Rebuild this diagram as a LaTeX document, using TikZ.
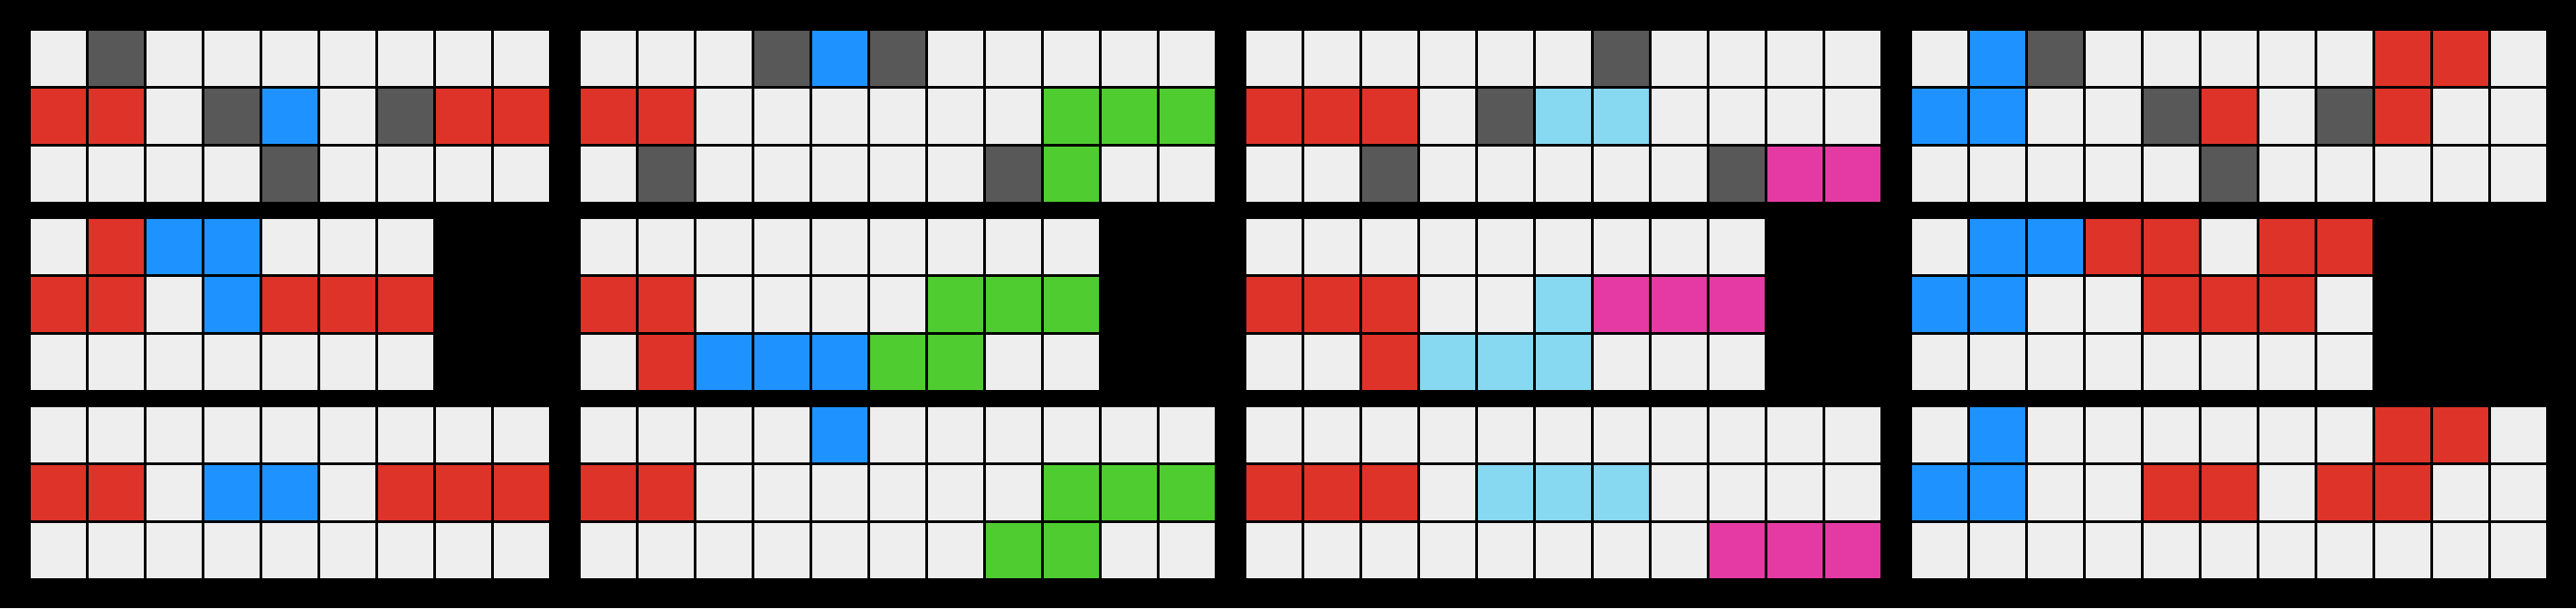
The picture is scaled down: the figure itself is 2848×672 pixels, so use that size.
\documentclass[tikz,border=0pt]{standalone}
\definecolor{E}{HTML}{EEEEEE}
\definecolor{D}{HTML}{585858}
\definecolor{R}{HTML}{DE3329}
\definecolor{B}{HTML}{1E93FF}
\definecolor{G}{HTML}{4FCC30}
\definecolor{L}{HTML}{87D8F1}
\definecolor{M}{HTML}{E53AA3}

% one puzzle grid, rows given top to bottom
\newcommand\arcgrid[3]{%
\begin{scope}[shift={(#1,#2)}]
\foreach \row [count=\r from 0] in {#3} {
  \foreach \c [count=\i from 0] in \row
    \fill[fill=\c] (64*\i,64*\r) rectangle ++(61,61);
}
\end{scope}}

\begin{document}
\begin{tikzpicture}[x=0.01cm,y=-0.01cm]

\fill[black] (0,0) rectangle (2848,672);

% first row
\arcgrid{34}{34}{{E,D,E,E,E,E,E,E,E},{R,R,E,D,B,E,D,R,R},{E,E,E,E,D,E,E,E,E}}
\arcgrid{642}{34}{{E,E,E,D,B,D,E,E,E,E,E},{R,R,E,E,E,E,E,E,G,G,G},{E,D,E,E,E,E,E,D,G,E,E}}
\arcgrid{1378}{34}{{E,E,E,E,E,E,D,E,E,E,E},{R,R,R,E,D,L,L,E,E,E,E},{E,E,D,E,E,E,E,E,D,M,M}}
\arcgrid{2114}{34}{{E,B,D,E,E,E,E,E,R,R,E},{B,B,E,E,D,R,E,D,R,E,E},{E,E,E,E,E,D,E,E,E,E,E}}

% second row
\arcgrid{34}{242}{{E,R,B,B,E,E,E},{R,R,E,B,R,R,R},{E,E,E,E,E,E,E}}
\arcgrid{642}{242}{{E,E,E,E,E,E,E,E,E},{R,R,E,E,E,E,G,G,G},{E,R,B,B,B,G,G,E,E}}
\arcgrid{1378}{242}{{E,E,E,E,E,E,E,E,E},{R,R,R,E,E,L,M,M,M},{E,E,R,L,L,L,E,E,E}}
\arcgrid{2114}{242}{{E,B,B,R,R,E,R,R},{B,B,E,E,R,R,R,E},{E,E,E,E,E,E,E,E}}

% third row
\arcgrid{34}{450}{{E,E,E,E,E,E,E,E,E},{R,R,E,B,B,E,R,R,R},{E,E,E,E,E,E,E,E,E}}
\arcgrid{642}{450}{{E,E,E,E,B,E,E,E,E,E,E},{R,R,E,E,E,E,E,E,G,G,G},{E,E,E,E,E,E,E,G,G,E,E}}
\arcgrid{1378}{450}{{E,E,E,E,E,E,E,E,E,E,E},{R,R,R,E,L,L,L,E,E,E,E},{E,E,E,E,E,E,E,E,M,M,M}}
\arcgrid{2114}{450}{{E,B,E,E,E,E,E,E,R,R,E},{B,B,E,E,R,R,E,R,R,E,E},{E,E,E,E,E,E,E,E,E,E,E}}

\end{tikzpicture}
\end{document}
